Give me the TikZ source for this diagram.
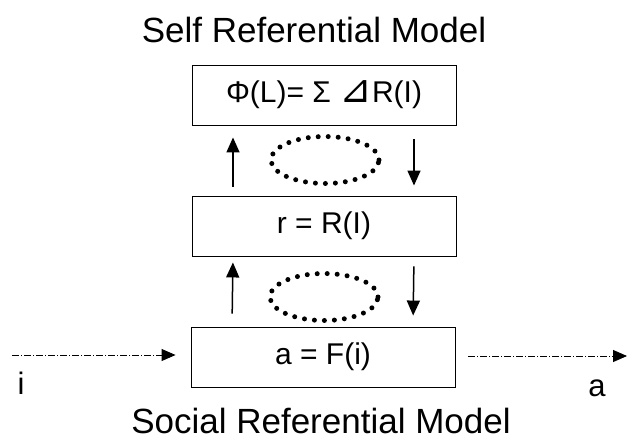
\documentclass[tikz,border=0pt]{standalone}
\usepackage{fontspec}
\setmainfont{Liberation Sans}
\newfontfamily\symfont{DejaVu Sans}
\usetikzlibrary{arrows.meta,shapes.geometric}

\tikzset{
  modelbox/.style={draw,line width=0.9pt,minimum width=264pt,minimum height=60pt,
    inner sep=0pt,font=\fontsize{30}{34}\selectfont},
  feedloop/.style={draw,ellipse,dash pattern=on 0pt off 10pt,line width=5pt,
    line cap=round,minimum width=108pt,minimum height=47pt,inner sep=0pt},
  flowarrow/.style={-{Triangle[length=15pt,width=13pt]},line width=1.5pt},
  signal/.style={-{Triangle[length=14pt,width=12pt]},line width=0.9pt,
    dash pattern=on 7pt off 2pt on 1pt off 2pt},
  heading/.style={font=\fontsize{35}{40}\selectfont,inner sep=1pt},
  tag/.style={font=\fontsize{31}{36}\selectfont,inner sep=0pt},
}

\begin{document}
\begin{tikzpicture}[x=1pt,y=-1pt]
  \useasboundingbox (0,0) rectangle (629,442);
  % headings
  \node[heading] (self) at (314,30) {Self Referential Model};
  \node[heading] (social) at (321,421) {Social Referential Model};
  % the three levels
  \node[modelbox] (top) at (324,95) {Φ(L)= Σ \scalebox{1.3}{\symfont ⊿}R(I)};
  \node[modelbox] (mid) at (324,226) {r = R(I)};
  \node[modelbox] (bot) at (323,357) {a = F(i)};
  % loops between levels
  \node[feedloop] (loopA) at (325,160) {};
  \node[feedloop] (loopB) at (324,297) {};
  \draw[flowarrow,shorten <=9pt,shorten >=12pt] ([xshift=-91pt]mid.north) -- ([xshift=-91pt]top.south);
  \draw[flowarrow,shorten <=14pt,shorten >=10pt] ([xshift=90pt]top.south) -- ([xshift=90pt]mid.north);
  \draw[flowarrow,shorten <=13pt,shorten >=6pt] ([xshift=-91pt]bot.north) -- ([xshift=-91pt]mid.south);
  \draw[flowarrow,shorten <=10pt,shorten >=11pt] ([xshift=90pt]mid.south) -- ([xshift=90pt]bot.north);
  % input and output
  \coordinate (in) at (12,355);
  \coordinate (out) at (627,356);
  \draw[signal,shorten >=15pt] (in) -- (bot.west |- in);
  \draw[signal,shorten <=13pt] (bot.east |- out) -- (out);
  \node[tag] (i) at (21,383) {i};
  \node[tag] (a) at (597,388) {a};
\end{tikzpicture}
\end{document}
